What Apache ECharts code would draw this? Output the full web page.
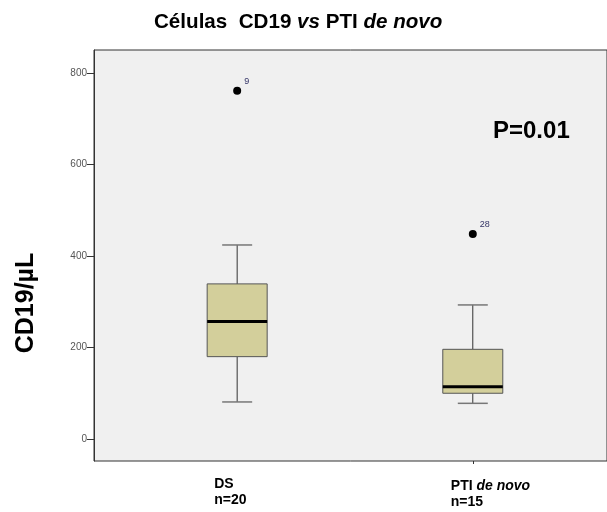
<!DOCTYPE html>
<html>
<head>
<meta charset="utf-8">
<script src="https://cdn.jsdelivr.net/npm/echarts@6/dist/echarts.min.js"></script>
<style>
  html, body { margin: 0; padding: 0; background: #fff; }
  #chart { width: 607px; height: 512px; }
</style>
</head>
<body>
<div id="chart"></div>
<script>
// Box plot of CD19 cell counts per group
const categories = ['DS', 'PTI de novo'];
const groupSizes = ['n=20', 'n=15'];
const lowerWhisker = [81, 78];
const q1 = [180, 100];
const median = [257, 114];
const q3 = [339, 196];
const upperWhisker = [424, 293];
const outlierGroup = [0, 1];
const outlierValue = [761, 448];
const outlierId = ['9', '28'];
const yTicks = [0, 200, 400, 600, 800];

const FONT = '"Liberation Sans", Arial, sans-serif';

const boxData = categories.map((c, i) =>
  [i, lowerWhisker[i], q1[i], median[i], q3[i], upperWhisker[i]]);
const outlierData = outlierGroup.map((g, i) => [g, outlierValue[i], outlierId[i]]);

const chart = echarts.init(document.getElementById('chart'));

function renderBox(params, api) {
  const i = api.value(0);
  const lw = api.coord([i, api.value(1)]);
  const b1 = api.coord([i, api.value(2)]);
  const md = api.coord([i, api.value(3)]);
  const b3 = api.coord([i, api.value(4)]);
  const uw = api.coord([i, api.value(5)]);
  const x = lw[0];
  const half = 30;
  const cap = 15;
  const gridBottom = params.coordSys.y + params.coordSys.height;
  const labelText = i === 0
    ? '{b|' + categories[0] + '}\n{b|' + groupSizes[0] + '}'
    : '{b|PTI }{i|de novo}\n{b|' + groupSizes[1] + '}';
  return {
    type: 'group',
    children: [
      { type: 'line', shape: { x1: x, y1: uw[1], x2: x, y2: b3[1] },
        style: { stroke: '#333', lineWidth: 1 } },
      { type: 'line', shape: { x1: x, y1: b1[1], x2: x, y2: lw[1] },
        style: { stroke: '#333', lineWidth: 1 } },
      { type: 'line', shape: { x1: x - cap, y1: uw[1], x2: x + cap, y2: uw[1] },
        style: { stroke: '#777', lineWidth: 1.5 } },
      { type: 'line', shape: { x1: x - cap, y1: lw[1], x2: x + cap, y2: lw[1] },
        style: { stroke: '#777', lineWidth: 1.5 } },
      { type: 'rect', shape: { x: x - half, y: b3[1], width: 2 * half, height: b1[1] - b3[1] },
        style: { fill: '#d3cf9b', stroke: '#555', lineWidth: 1 } },
      { type: 'line', shape: { x1: x - half, y1: md[1], x2: x + half, y2: md[1] },
        style: { stroke: '#000', lineWidth: 3 } },
      { type: 'text', x: x - 23 + (i === 1 ? 1 : 0), y: gridBottom + 15 + (i === 1 ? 2 : 0),
        style: {
          text: labelText,
          fill: '#000',
          align: 'left',
          verticalAlign: 'top',
          rich: {
            b: { fontFamily: FONT, fontSize: 14, fontWeight: 'bold', lineHeight: 16, fill: '#000' },
            i: { fontFamily: FONT, fontSize: 14, fontWeight: 'bold', fontStyle: 'italic', lineHeight: 16, fill: '#000' }
          }
        } }
    ]
  };
}

chart.setOption({
  animation: false,
  backgroundColor: '#ffffff',
  title: {
    text: '{b|Células  CD19 }{i|vs}{b| PTI }{i|de novo}',
    left: 149,
    top: 7,
    textStyle: {
      rich: {
        b: { fontFamily: FONT, fontSize: 20.6, fontWeight: 'bold', color: '#000' },
        i: { fontFamily: FONT, fontSize: 20.6, fontWeight: 'bold', fontStyle: 'italic', color: '#000' }
      }
    }
  },
  grid: {
    left: 94, right: -3, top: 50, bottom: 51,
    show: true, backgroundColor: '#f0f0f0', borderColor: '#333', borderWidth: 1
  },
  xAxis: {
    type: 'value',
    min: -0.6076,
    max: 1.5696,
    axisLine: { show: false, onZero: false },
    splitLine: { show: false },
    axisLabel: { show: false },
    axisTick: { show: true, customValues: [1], length: 3, lineStyle: { color: '#333' } }
  },
  yAxis: {
    type: 'value',
    min: -48,
    max: 850,
    splitLine: { show: false },
    axisLine: { show: true, onZero: false, lineStyle: { color: '#333' } },
    axisTick: { show: true, length: 7, customValues: yTicks, lineStyle: { color: '#333', width: 1 } },
    axisLabel: {
      customValues: yTicks, fontSize: 10, color: '#555', margin: 7, fontFamily: 'Arial, "Liberation Sans", sans-serif'
    }
  },
  graphic: [
    { type: 'text', x: 26, y: 303, rotation: Math.PI / 2,
      style: { text: 'CD19/µL', font: 'bold 25px ' + FONT, fill: '#000', align: 'center', verticalAlign: 'middle' } },
    { type: 'text', left: 493, top: 119,
      style: { text: 'P=0.01', font: 'bold 24px ' + FONT, fill: '#000' } }
  ],
  series: [
    {
      type: 'custom',
      renderItem: renderBox,
      data: boxData,
      encode: { x: 0, y: [1, 2, 3, 4, 5] },
      z: 2
    },
    {
      type: 'scatter',
      data: outlierData,
      symbol: 'circle',
      symbolSize: 8,
      itemStyle: { color: '#000', opacity: 1 },
      label: {
        show: true,
        formatter: p => p.value[2],
        position: 'right',
        offset: [-2, -9],
        fontSize: 9,
        color: '#333366',
        fontFamily: FONT
      },
      z: 3
    }
  ]
});
</script>
</body>
</html>
